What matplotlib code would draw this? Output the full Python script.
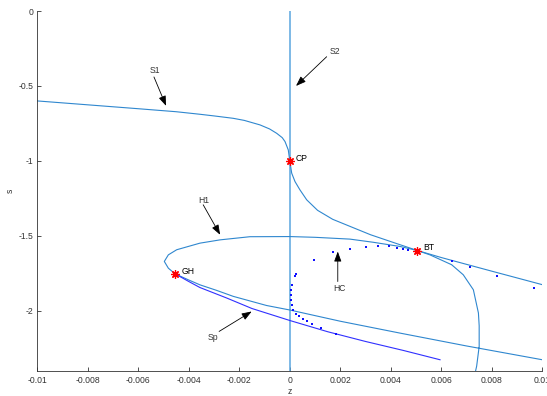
import matplotlib
matplotlib.use("Agg")
import matplotlib.pyplot as plt

plt.rcParams['font.family'] = ['Liberation Sans', 'DejaVu Sans']

# ---- data ----
s2_z = [0.0, 0.0]
s2_s = [0.0, -2.4]

s1_z = [-0.0100, -0.0080, -0.0060, -0.0045, -0.00356, -0.0030, -0.00224, -0.0018, -0.00118,
        -0.0008, -0.00052, -0.00030, -0.00019, -0.00006, 0.0, 0.000075, 0.000206, 0.0004,
        0.00067, 0.0011, 0.0017, 0.0025, 0.0032, 0.0042, 0.00505, 0.0060, 0.0080, 0.0100]
s1_s = [-0.600, -0.626, -0.652, -0.672, -0.689, -0.700, -0.716, -0.730, -0.760,
        -0.787, -0.816, -0.845, -0.871, -0.927, -1.000, -1.082, -1.138, -1.193,
        -1.260, -1.330, -1.390, -1.445, -1.493, -1.550, -1.598, -1.645, -1.736, -1.826]

h1_z = [0.00736, 0.0074, 0.0075, 0.0075, 0.00747, 0.00727, 0.00687, 0.00641, 0.00555,
        0.00505, 0.00436, 0.0033, 0.00238, 0.0010, 0.0, -0.00158, -0.00276, -0.00356,
        -0.00448, -0.00481, -0.00497, -0.00481, -0.00455, -0.0040, -0.00356, -0.0029,
        -0.00224, -0.00092, 0.0, 0.0020, 0.00436, 0.0070, 0.0100]
h1_s = [-2.400, -2.370, -2.238, -2.100, -2.015, -1.860, -1.760, -1.693, -1.627,
        -1.598, -1.571, -1.543, -1.522, -1.510, -1.505, -1.506, -1.527, -1.549,
        -1.593, -1.627, -1.671, -1.716, -1.753, -1.795, -1.827, -1.864,
        -1.904, -1.965, -1.995, -2.070, -2.149, -2.235, -2.327]

sp_z = [-0.00455, -0.0040, -0.00356, -0.0025, -0.0015, 0.0, 0.0015, 0.0030, 0.0045, 0.00595]
sp_s = [-1.753, -1.805, -1.845, -1.915, -1.985, -2.065, -2.140, -2.205, -2.265, -2.327]

hc_z = [0.004693, 0.004471, 0.004234, 0.003941, 0.003505, 0.003006, 0.002384, 0.001723,
        0.000958, 0.000246, 0.000206, 0.000075, 0.000048, 0.000048, 0.000048, 0.000075,
        0.000115, 0.000246, 0.000376, 0.000511, 0.000669, 0.000867, 0.001224, 0.001818,
        0.006412, 0.007137, 0.008194, 0.009671]
hc_s = [-1.593, -1.587, -1.578, -1.571, -1.567, -1.573, -1.587, -1.611,
        -1.660, -1.755, -1.765, -1.827, -1.860, -1.893, -1.927, -1.960,
        -1.993, -2.022, -2.038, -2.053, -2.071, -2.089, -2.115, -2.153,
        -1.671, -1.709, -1.767, -1.847]

pt_names = ['CP', 'GH', 'BT']
pt_z = [0.0, -0.00455, 0.00505]
pt_s = [-1.0, -1.753, -1.598]

xticks = [-0.01, -0.008, -0.006, -0.004, -0.002, 0.0, 0.002, 0.004, 0.006, 0.008, 0.01]
xticklabels = ['-0.01', '-0.008', '-0.006', '-0.004', '-0.002', '0', '0.002', '0.004', '0.006', '0.008', '0.01']
yticks = [0.0, -0.5, -1.0, -1.5, -2.0]
yticklabels = ['0', '-0.5', '-1', '-1.5', '-2']

# ---- figure ----
fig = plt.figure(figsize=(5.47, 3.96), dpi=100)
ax = fig.add_axes([0.0682, 0.0639, 0.9232, 0.9083])
ax.set_xlim(-0.01, 0.01)
ax.set_ylim(-2.4, 0.0)

lc = '#2f87cf'
ax.plot(s2_z, s2_s, color='#5aa6df', lw=1.1)
ax.plot(s1_z, s1_s, color=lc, lw=0.8)
ax.plot(h1_z, h1_s, color=lc, lw=0.8)
ax.plot(sp_z, sp_s, color='#3030ff', lw=0.8)
ax.plot(hc_z, hc_s, linestyle='none', marker='s', markersize=2.1, color='#1010ff', mew=0)
ax.plot(pt_z, pt_s, linestyle='none', marker=(8, 2, 0), markersize=6, color='red', mew=0.9)

for name, z, s in zip(pt_names, pt_z, pt_s):
    ax.text(z + 0.00025, s + 0.018, name, fontsize=6.2, color='black', va='center', ha='left')

arrow_kw = dict(arrowstyle='-|>,head_length=0.6,head_width=0.22', color='black',
                lw=0.6, mutation_scale=10, shrinkA=0, shrinkB=0)
notes = [
    ('S1', (-0.00534, -0.398), (-0.00538, -0.440), (-0.0049, -0.633)),
    ('S2', (0.00179, -0.271), (0.00146, -0.305), (0.000246, -0.500)),
    ('H1', (-0.00339, -1.265), (-0.00343, -1.293), (-0.00276, -1.493)),
    ('HC', (0.00195, -1.849), (0.0019, -1.805), (0.0019, -1.605)),
    ('Sp', (-0.00303, -2.178), (-0.0028, -2.138), (-0.00151, -2.005)),
]
for label, tpos, a0, a1 in notes:
    ax.text(tpos[0], tpos[1], label, fontsize=6.2, color='#333333', ha='center', va='center')
    ax.annotate('', xy=a1, xytext=a0, arrowprops=arrow_kw)

for side in ['top', 'right']:
    ax.spines[side].set_visible(False)
for side in ['left', 'bottom']:
    ax.spines[side].set_color('#333333')
    ax.spines[side].set_linewidth(0.6)

ax.set_xticks(xticks)
ax.set_xticklabels(xticklabels)
ax.set_yticks(yticks)
ax.set_yticklabels(yticklabels)
ax.tick_params(direction='in', length=3, width=0.6, colors='#333333', labelsize=6.2)
ax.tick_params(axis='x', pad=4)
ax.tick_params(axis='y', pad=3)
ax.set_xlabel('z', fontsize=6.2, color='#333333', labelpad=1.5)
ax.set_ylabel('s', fontsize=6.2, color='#333333', labelpad=2.5)

fig.savefig('out.png', dpi=100)
